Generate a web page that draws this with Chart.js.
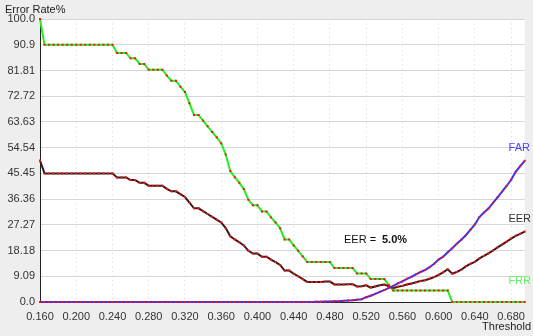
<!DOCTYPE html>
<html>
<head>
<meta charset="utf-8">
<script src="https://cdn.jsdelivr.net/npm/chart.js@4.4.0/dist/chart.umd.min.js"></script>
<style>
  html, body { margin: 0; padding: 0; background: #eeeeee; }
  #chart { display: block; }
</style>
</head>
<body>
<canvas id="chart" width="533" height="336"></canvas>
<script>
// thresholds, one per data point
const thresholds = [
  '0.160','0.165','0.170','0.175','0.180','0.185','0.190','0.195',
  '0.200','0.205','0.210','0.215','0.220','0.225','0.230','0.235',
  '0.240','0.245','0.250','0.255','0.260','0.265','0.270','0.275',
  '0.280','0.285','0.290','0.295','0.300','0.305','0.310','0.315',
  '0.320','0.325','0.330','0.335','0.340','0.345','0.350','0.355',
  '0.360','0.365','0.370','0.375','0.380','0.385','0.390','0.395',
  '0.400','0.405','0.410','0.415','0.420','0.425','0.430','0.435',
  '0.440','0.445','0.450','0.455','0.460','0.465','0.470','0.475',
  '0.480','0.485','0.490','0.495','0.500','0.505','0.510','0.515',
  '0.520','0.525','0.530','0.535','0.540','0.545','0.550','0.555',
  '0.560','0.565','0.570','0.575','0.580','0.585','0.590','0.595',
  '0.600','0.605','0.610','0.615','0.620','0.625','0.630','0.635',
  '0.640','0.645','0.650','0.655','0.660','0.665','0.670','0.675',
  '0.680','0.685','0.690','0.695'
];

const farValues = [
  0, 0, 0, 0, 0, 0, 0, 0, 0, 0, 0, 0, 0, 0, 0, 0,
  0, 0, 0, 0, 0, 0, 0, 0, 0, 0, 0, 0, 0, 0, 0, 0,
  0, 0, 0, 0, 0, 0, 0, 0, 0, 0, 0, 0, 0, 0, 0, 0,
  0, 0, 0, 0, 0, 0, 0, 0, 0, 0, 0, 0, 0,
  0.1, 0.1, 0.2, 0.2, 0.3, 0.3, 0.4, 0.5, 0.6, 0.8,
  1.0, 1.7, 2.2, 2.9, 3.6, 4.2, 5.0, 5.7, 6.6, 7.3,
  8.2, 8.9, 9.8, 10.6, 11.3, 12.3, 13.5, 15.0, 16.0, 17.6,
  19.0, 20.6, 22.0, 23.6, 25.5, 27.4, 30.0, 31.6, 33.0, 35.0,
  37.0, 39.0, 41.0, 43.2, 46.0, 48.0, 49.9
];

const frrValues = [
  100,
  90.9, 90.9, 90.9, 90.9, 90.9, 90.9, 90.9, 90.9,
  90.9, 90.9, 90.9, 90.9, 90.9, 90.9, 90.9, 90.9,
  88.0, 88.0, 88.0, 86.1, 86.1, 84.1, 84.1,
  82.1, 82.1, 82.1, 82.1, 80.0, 78.2, 78.2, 76.1, 74.2, 70.2,
  66.1, 66.1, 64.1, 62.1, 60.1, 58.2, 56.1, 52.1, 46.3, 44.1,
  42.1, 39.9, 36.1, 34.2, 34.2, 32.0, 32.0, 29.9, 28.1, 26.1,
  22.1, 22.1, 20.0, 18.1, 16.1,
  14.1, 14.1, 14.1, 14.1, 14.1, 14.1,
  12.0, 12.0, 12.0, 12.0, 12.0,
  10.1, 10.1, 10.1, 8.1, 8.1, 8.1, 8.1, 6.0,
  4.1, 4.1, 4.1, 4.1, 4.1, 4.1, 4.1, 4.1, 4.1, 4.1, 4.1, 4.1, 4.1,
  0, 0, 0, 0, 0, 0, 0, 0, 0, 0, 0, 0, 0, 0, 0, 0, 0
];

const eerValues = [
  50.0,
  45.45, 45.45, 45.45, 45.45, 45.45, 45.45, 45.45, 45.45,
  45.45, 45.45, 45.45, 45.45, 45.45, 45.45, 45.45, 45.45,
  44.0, 44.0, 44.0, 43.1, 43.1, 42.1, 42.1,
  41.1, 41.1, 41.1, 41.1, 40.0, 39.1, 39.1, 38.1, 37.1, 35.1,
  33.1, 33.1, 32.1, 31.1, 30.1, 29.1, 28.1, 26.1, 23.2, 22.1,
  21.1, 20.0, 18.1, 17.1, 17.1, 16.0, 16.0, 15.0, 14.1, 13.1,
  11.1, 11.1, 10.0, 9.1, 8.1,
  7.1, 7.1, 7.1, 7.1, 7.2, 7.2,
  6.2, 6.2, 6.2, 6.3, 6.3,
  5.5, 5.6, 5.9, 5.1, 5.5, 5.9, 6.2, 5.5,
  4.9, 5.4, 5.7, 6.2, 6.5, 7.0, 7.4, 7.7, 8.2, 8.8, 9.6, 10.5, 11.6,
  10.0, 10.6, 11.4, 12.6, 13.5, 14.2, 15.4, 16.3, 17.2, 18.2,
  19.3, 20.3, 21.3, 22.4, 23.4, 24.1, 24.9
];

const yTicks = [0, 9.09, 18.18, 27.27, 36.36, 45.45, 54.54, 63.63, 72.72, 81.81, 90.9, 100];
const yTickLabels = ['0.0', '9.09', '18.18', '27.27', '36.36', '45.45', '54.54', '63.63', '72.72', '81.81', '90.9', '100.0'];

const FONT = '"Liberation Sans", Arial, sans-serif';

// grey page, white plot area
const plotBg = {
  id: 'plotBg',
  beforeDraw(chart) {
    const { ctx, chartArea: a, width, height } = chart;
    ctx.save();
    ctx.fillStyle = '#eeeeee';
    ctx.fillRect(0, 0, width, height);
    ctx.fillStyle = '#ffffff';
    ctx.fillRect(a.left, a.top, a.right - a.left, a.bottom - a.top);
    ctx.restore();
  }
};

// axis titles, series names and the EER note
const labels = {
  id: 'labels',
  afterDraw(chart) {
    const { ctx } = chart;
    ctx.save();
    ctx.textBaseline = 'middle';
    ctx.font = '11px ' + FONT;
    ctx.fillStyle = '#222';
    ctx.textAlign = 'left';
    ctx.fillText('Error Rate%', 5, 10);
    ctx.textAlign = 'right';
    ctx.fillText('Threshold', 531, 327);

    ctx.fillStyle = '#4444ff';
    ctx.fillText('FAR', 530, 148);
    ctx.fillStyle = '#333333';
    ctx.fillText('EER', 531, 219);
    ctx.fillStyle = '#66ee66';
    ctx.fillText('FRR', 531, 281);

    ctx.textAlign = 'left';
    ctx.fillStyle = '#111';
    ctx.font = '11px ' + FONT;
    ctx.fillText('EER =', 344, 240);
    ctx.font = 'bold 11px ' + FONT;
    ctx.fillText('5.0%', 382, 240);
    ctx.restore();
  }
};

const lineSet = (label, data, color) => ({
  label: label,
  data: data,
  borderColor: color,
  borderWidth: 2,
  pointStyle: 'rect',
  pointRadius: 1.4,
  pointBorderWidth: 0,
  pointBackgroundColor: '#ff1010',
  pointHoverRadius: 0,
  tension: 0,
  clip: 4
});

new Chart(document.getElementById('chart'), {
  type: 'line',
  data: {
    labels: thresholds,
    datasets: [
      lineSet('FAR', farValues, '#3333ff'),
      lineSet('EER', eerValues, '#2e1c1c'),
      lineSet('FRR', frrValues, '#22ee22')
    ]
  },
  options: {
    responsive: false,
    animation: false,
    events: [],
    layout: { padding: { top: 19, right: 4, left: 0, bottom: 0 } },
    plugins: {
      legend: { display: false },
      tooltip: { enabled: false }
    },
    scales: {
      x: {
        type: 'category',
        offset: false,
        afterFit(scale) { scale.height = 34; },
        afterBuildTicks(scale) {
          scale.ticks = scale.ticks.filter((t, i) => i % 8 === 0);
        },
        grid: { color: '#d6d6d6', drawTicks: false },
        border: { display: true, color: '#222', width: 1, dash: [1, 3.5] },
        ticks: {
          autoSkip: false,
          maxRotation: 0,
          padding: 8,
          color: '#333',
          font: { family: FONT, size: 11 }
        }
      },
      y: {
        min: 0,
        max: 100,
        afterFit(scale) { scale.width = 40; },
        afterBuildTicks(scale) {
          scale.ticks = yTicks.map(v => ({ value: v }));
        },
        grid: { color: '#d6d6d6', drawTicks: false },
        border: { display: true, color: '#222', width: 1 },
        ticks: {
          padding: 5,
          color: '#333',
          font: { family: FONT, size: 11 },
          callback: (v, i) => yTickLabels[i]
        }
      }
    }
  },
  plugins: [plotBg, labels]
});
</script>
</body>
</html>
